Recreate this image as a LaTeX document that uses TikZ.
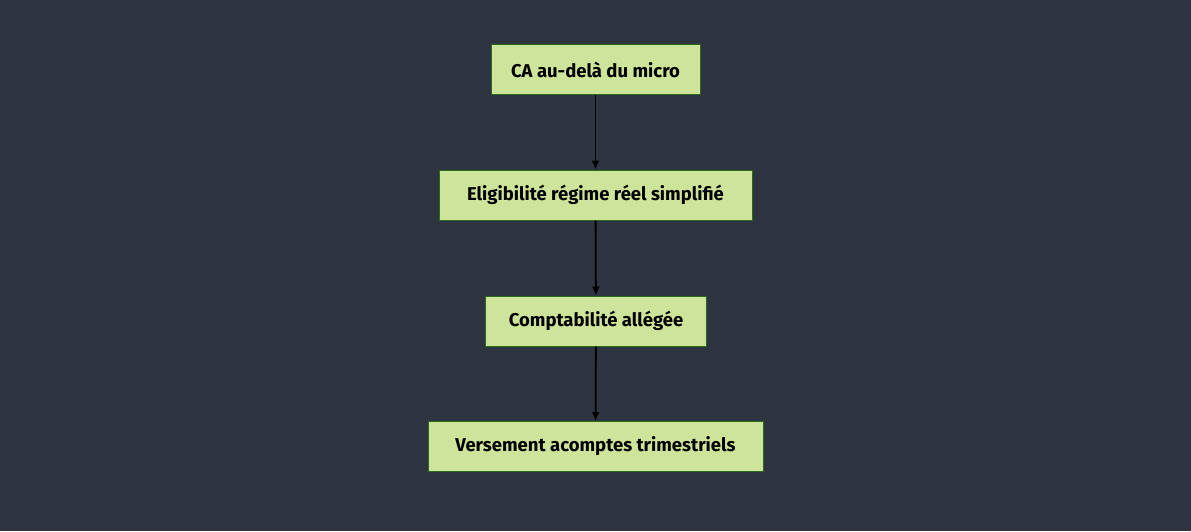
\documentclass[tikz,border=0pt]{standalone}
\usepackage{fontspec}
\setmainfont{Fira Sans}
\usepackage{tikz}
\usetikzlibrary{positioning,arrows.meta}
\definecolor{bgnord}{HTML}{2E3440}
\definecolor{boxfill}{HTML}{CDE49A}
\definecolor{boxline}{HTML}{2A6A1A}
\tikzset{
  etape/.style={draw=boxline, line width=1pt, fill=boxfill, text=black,
    font=\fontsize{18.5}{21}\selectfont\bfseries, minimum height=50pt, inner xsep=20pt},
  fleche/.style={-{Latex[length=9pt,width=8pt]}, line width=1.8pt, black}
}
\begin{document}
\begin{tikzpicture}[x=1pt,y=-1pt]
%fond
\fill[bgnord] (0,0) rectangle (1191,531);
\useasboundingbox (0,0) rectangle (1191,531);
%etapes
\node[etape, minimum width=209pt] (ca) at (595.5,69.5) {CA au-delà du micro};
\node[etape, minimum width=313pt] (elig) at (595.5,195) {Eligibilité régime réel simplifié};
\node[etape, minimum width=221pt] (compta) at (596,321) {Comptabilité allégée};
\node[etape, minimum width=335pt] (acomptes) at (595.5,446.5) {Versement acomptes trimestriels};
%fleches
\draw[fleche] (ca) -- (elig);
\draw[fleche] (elig) -- (compta);
\draw[fleche] (compta) -- (acomptes);
\end{tikzpicture}
\end{document}
